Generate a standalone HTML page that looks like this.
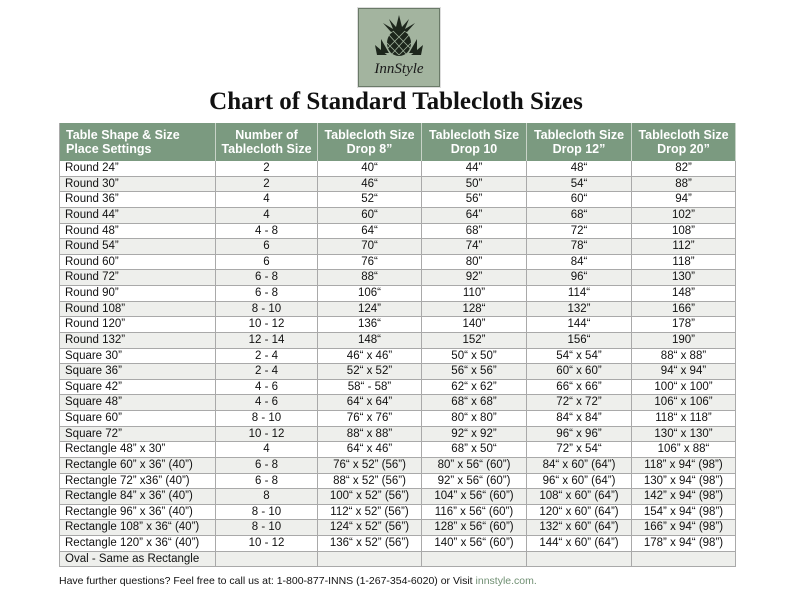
<!DOCTYPE html>
<html><head><meta charset="utf-8"><style>
body{margin:0;width:792px;height:612px;background:#fff;position:relative;font-family:"Liberation Sans",Arial,sans-serif;overflow:hidden}
.logo{position:absolute;left:358px;top:8px;width:80px;height:77px;background:#a3b49f;border:1px solid #6a7a68;box-shadow:0 0 0 1px #ddd}
.logo .t{position:absolute;left:0;right:0;top:52px;text-align:center;font-family:"Liberation Serif",serif;font-style:italic;font-size:15px;color:#1a1a1a}
h1{position:absolute;left:0;right:0;top:88px;margin:0;text-align:center;font-family:"Liberation Serif",serif;font-weight:bold;font-size:25px;color:#111}
.tb{position:absolute;left:59px;top:123px;width:676px;font-size:11.5px;color:#111;border-left:1px solid #a9a9a9}
.row{display:flex;height:15.64px;box-sizing:border-box;border-bottom:1px solid #a9a9a9}
.row>div{box-sizing:border-box;border-right:1px solid #a9a9a9;text-align:center;line-height:14.6px;white-space:nowrap;overflow:hidden}
.row>div:first-child{text-align:left;padding-left:5px}
.row:nth-child(even)>div{background:#eeefec}
.hd{display:flex;height:38px;background:#7b9a80;color:#fff;font-weight:bold;font-size:12.5px;line-height:14px}
.hd>div{box-sizing:border-box;border-right:1px solid #c8d3c8;text-align:center;padding-top:5px}
.hd>div:first-child{text-align:left;padding-left:6px}
.c1{width:156px}.c2{width:102px}.c3{width:104px}.c4{width:105px}.c5{width:105px}.c6{width:104px}
.f{position:absolute;left:59px;top:575px;font-size:10.5px;color:#111}
.f span{color:#6f8f72}
</style></head><body>
<div class="logo">
<svg width="80" height="52" viewBox="0 0 80 52" style="position:absolute;left:0;top:0">
<g fill="#1d261c"><path d="M40 6 L37 18 L30 10 L34 20 L24 14 L32 23 L40 21 L48 23 L56 14 L46 20 L50 10 L43 18Z"/>
<ellipse cx="40" cy="34" rx="12" ry="13"/>
<path d="M22 30 L30 44 L22 44Z M58 30 L50 44 L58 44Z M16 36 L28 46 L18 46Z M64 36 L52 46 L62 46Z"/></g>
<g stroke="#a3b49f" stroke-width="0.8" fill="none"><path d="M30 26 L48 46 M34 22 L52 40 M28 34 L40 46 M50 26 L32 46 M46 22 L28 40 M52 34 L40 46"/></g>
</svg>
<div class="t">InnStyle</div></div>
<h1>Chart of Standard Tablecloth Sizes</h1>
<div class="tb">
<div class="hd"><div class="c1">Table Shape &amp; Size<br>Place Settings</div><div class="c2">Number of<br>Tablecloth Size</div><div class="c3">Tablecloth Size<br>Drop 8”</div><div class="c4">Tablecloth Size<br>Drop 10</div><div class="c5">Tablecloth Size<br>Drop 12”</div><div class="c6">Tablecloth Size<br>Drop 20”</div></div>
<div>
<div class="row"><div class="c1">Round 24”</div><div class="c2">2</div><div class="c3">40“</div><div class="c4">44”</div><div class="c5">48“</div><div class="c6">82”</div></div>
<div class="row"><div class="c1">Round 30”</div><div class="c2">2</div><div class="c3">46“</div><div class="c4">50”</div><div class="c5">54“</div><div class="c6">88”</div></div>
<div class="row"><div class="c1">Round 36”</div><div class="c2">4</div><div class="c3">52“</div><div class="c4">56”</div><div class="c5">60“</div><div class="c6">94”</div></div>
<div class="row"><div class="c1">Round 44”</div><div class="c2">4</div><div class="c3">60“</div><div class="c4">64”</div><div class="c5">68“</div><div class="c6">102”</div></div>
<div class="row"><div class="c1">Round 48”</div><div class="c2">4 - 8</div><div class="c3">64“</div><div class="c4">68”</div><div class="c5">72“</div><div class="c6">108”</div></div>
<div class="row"><div class="c1">Round 54”</div><div class="c2">6</div><div class="c3">70“</div><div class="c4">74”</div><div class="c5">78“</div><div class="c6">112”</div></div>
<div class="row"><div class="c1">Round 60”</div><div class="c2">6</div><div class="c3">76“</div><div class="c4">80”</div><div class="c5">84“</div><div class="c6">118”</div></div>
<div class="row"><div class="c1">Round 72”</div><div class="c2">6 - 8</div><div class="c3">88“</div><div class="c4">92”</div><div class="c5">96“</div><div class="c6">130”</div></div>
<div class="row"><div class="c1">Round 90”</div><div class="c2">6 - 8</div><div class="c3">106“</div><div class="c4">110”</div><div class="c5">114“</div><div class="c6">148”</div></div>
<div class="row"><div class="c1">Round 108”</div><div class="c2">8 - 10</div><div class="c3">124”</div><div class="c4">128“</div><div class="c5">132”</div><div class="c6">166”</div></div>
<div class="row"><div class="c1">Round 120”</div><div class="c2">10 - 12</div><div class="c3">136“</div><div class="c4">140”</div><div class="c5">144“</div><div class="c6">178”</div></div>
<div class="row"><div class="c1">Round 132”</div><div class="c2">12 - 14</div><div class="c3">148“</div><div class="c4">152”</div><div class="c5">156“</div><div class="c6">190”</div></div>
<div class="row"><div class="c1">Square 30”</div><div class="c2">2 - 4</div><div class="c3">46“ x 46”</div><div class="c4">50“ x 50”</div><div class="c5">54“ x 54”</div><div class="c6">88“ x 88”</div></div>
<div class="row"><div class="c1">Square 36”</div><div class="c2">2 - 4</div><div class="c3">52“ x 52”</div><div class="c4">56“ x 56”</div><div class="c5">60“ x 60”</div><div class="c6">94“ x 94”</div></div>
<div class="row"><div class="c1">Square 42”</div><div class="c2">4 - 6</div><div class="c3">58“ - 58”</div><div class="c4">62“ x 62”</div><div class="c5">66“ x 66”</div><div class="c6">100“ x 100”</div></div>
<div class="row"><div class="c1">Square 48”</div><div class="c2">4 - 6</div><div class="c3">64“ x 64”</div><div class="c4">68“ x 68”</div><div class="c5">72“ x 72”</div><div class="c6">106“ x 106”</div></div>
<div class="row"><div class="c1">Square 60”</div><div class="c2">8 - 10</div><div class="c3">76“ x 76”</div><div class="c4">80“ x 80”</div><div class="c5">84“ x 84”</div><div class="c6">118“ x 118”</div></div>
<div class="row"><div class="c1">Square 72”</div><div class="c2">10 - 12</div><div class="c3">88“ x 88”</div><div class="c4">92“ x 92”</div><div class="c5">96“ x 96”</div><div class="c6">130“ x 130”</div></div>
<div class="row"><div class="c1">Rectangle 48” x 30”</div><div class="c2">4</div><div class="c3">64“ x 46”</div><div class="c4">68” x 50“</div><div class="c5">72” x 54“</div><div class="c6">106” x 88“</div></div>
<div class="row"><div class="c1">Rectangle 60” x 36” (40”)</div><div class="c2">6 - 8</div><div class="c3">76“ x 52” (56”)</div><div class="c4">80” x 56“ (60”)</div><div class="c5">84“ x 60” (64”)</div><div class="c6">118” x 94“ (98”)</div></div>
<div class="row"><div class="c1">Rectangle 72” x36” (40”)</div><div class="c2">6 - 8</div><div class="c3">88“ x 52” (56”)</div><div class="c4">92” x 56“ (60”)</div><div class="c5">96“ x 60” (64”)</div><div class="c6">130” x 94“ (98”)</div></div>
<div class="row"><div class="c1">Rectangle 84” x 36” (40”)</div><div class="c2">8</div><div class="c3">100“ x 52” (56”)</div><div class="c4">104” x 56“ (60”)</div><div class="c5">108“ x 60” (64”)</div><div class="c6">142” x 94“ (98”)</div></div>
<div class="row"><div class="c1">Rectangle 96” x 36” (40”)</div><div class="c2">8 - 10</div><div class="c3">112“ x 52” (56”)</div><div class="c4">116” x 56“ (60”)</div><div class="c5">120“ x 60” (64”)</div><div class="c6">154” x 94“ (98”)</div></div>
<div class="row"><div class="c1">Rectangle 108” x 36“ (40”)</div><div class="c2">8 - 10</div><div class="c3">124“ x 52” (56”)</div><div class="c4">128” x 56“ (60”)</div><div class="c5">132“ x 60” (64”)</div><div class="c6">166” x 94“ (98”)</div></div>
<div class="row"><div class="c1">Rectangle 120” x 36“ (40”)</div><div class="c2">10 - 12</div><div class="c3">136“ x 52” (56”)</div><div class="c4">140” x 56“ (60”)</div><div class="c5">144“ x 60” (64”)</div><div class="c6">178” x 94“ (98”)</div></div>
<div class="row"><div class="c1">Oval - Same as Rectangle</div><div class="c2"></div><div class="c3"></div><div class="c4"></div><div class="c5"></div><div class="c6"></div></div>
</div>
</div>
<div class="f">Have further questions? Feel free to call us at: 1-800-877-INNS (1-267-354-6020) or Visit <span>innstyle.com.</span></div>
</body></html>
